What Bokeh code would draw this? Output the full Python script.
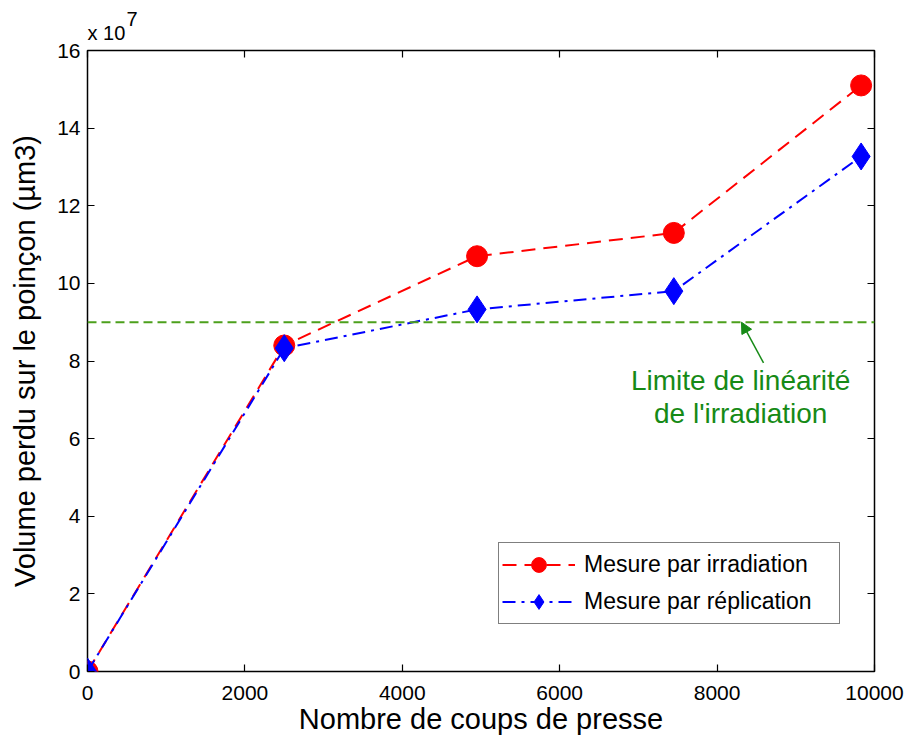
from bokeh.plotting import figure
from bokeh.models import (Range1d, LinearAxis, FixedTicker, CustomJSTickFormatter,
                          Legend, LegendItem, Label, Span, Arrow, NormalHead, Title)
from bokeh.embed import file_html
from bokeh.resources import INLINE

# ---- data ----
coups = [0, 2500, 4950, 7450, 9830]
irradiation = [0.0, 8.4, 10.7, 11.3, 15.1]      # x 10^7 µm3
replication = [0.0, 8.33, 9.33, 9.8, 13.27]     # x 10^7 µm3
limite = 9.0                                    # x 10^7 µm3
x_ticks = [0, 2000, 4000, 6000, 8000, 10000]
y_ticks = [0, 2, 4, 6, 8, 10, 12, 14, 16]
arrow_from = (8590, 7.95)
arrow_to = (8310, 9.0)
note_pos = (8300, 7.5, 6.65)

FONT = "Liberation Sans"

p = figure(width=910, height=737, output_backend="svg", toolbar_location=None,
           x_range=Range1d(0, 10000), y_range=Range1d(0, 16),
           min_border_left=87, min_border_right=36, min_border_top=49, min_border_bottom=66,
           x_axis_label="Nombre de coups de presse",
           y_axis_label="Volume perdu sur le poinçon (µm3)")
p.grid.visible = False
p.outline_line_color = "black"
p.outline_line_width = 1.5
p.background_fill_color = "white"
p.border_fill_color = "white"

for ax in (p.xaxis[0], p.yaxis[0]):
    ax.axis_line_color = None
    ax.major_tick_in = 7
    ax.major_tick_out = 0
    ax.minor_tick_line_color = None
    ax.major_tick_line_color = "black"
    ax.major_tick_line_width = 1.2
    ax.major_label_text_font = FONT
    ax.major_label_text_font_size = "21px"
    ax.major_label_text_color = "black"
    ax.axis_label_text_font = FONT
    ax.axis_label_text_font_size = "29px"
    ax.axis_label_text_font_style = "normal"
    ax.axis_label_text_color = "black"

p.xaxis[0].ticker = FixedTicker(ticks=x_ticks)
p.yaxis[0].ticker = FixedTicker(ticks=y_ticks)
p.xaxis[0].major_label_standoff = 14
p.xaxis[0].axis_label_standoff = 0
p.yaxis[0].major_label_standoff = 7
p.yaxis[0].axis_label_standoff = 13

blank = CustomJSTickFormatter(code="return ''")
top = LinearAxis(ticker=FixedTicker(ticks=x_ticks), formatter=blank, axis_line_color=None,
                 major_tick_in=7, major_tick_out=0, minor_tick_line_color=None,
                 major_tick_line_width=1.2, major_label_standoff=0,
                 major_label_text_font_size="1px")
right = LinearAxis(ticker=FixedTicker(ticks=y_ticks), formatter=blank, axis_line_color=None,
                   major_tick_in=7, major_tick_out=0, minor_tick_line_color=None,
                   major_tick_line_width=1.2, major_label_standoff=0,
                   major_label_text_font_size="1px")
p.add_layout(top, "above")
p.add_layout(right, "right")

# multiplier of the y axis: "x 10" with a raised "7" (two lines, tight leading)
NBSP = "\u00a0"
p.add_layout(Title(text=NBSP * 7 + "7\nx 10", align="left", offset=0, standoff=12,
                   text_font=FONT, text_font_size="20px", text_font_style="normal",
                   text_line_height=0.65, text_color="black"), "above")

# limit line
green_line = "#4ca01c"
green_text = "#168a16"
p.add_layout(Span(location=limite, dimension="width", line_color=green_line,
                  line_width=2, line_dash="9 5"))

r1l = p.line(coups, irradiation, line_color="#ff0000", line_width=2, line_dash="14 8")
r1m = p.scatter(coups, irradiation, marker="circle", size=21, fill_color="#ff0000",
                line_color="#ff0000")
r2l = p.line(coups, replication, line_color="#0000ff", line_width=2, line_dash="13 6 3 6")
r2m = p.scatter(coups, replication, marker="diamond", size=27, fill_color="#0000ff",
                line_color="#0000ff")

legend = Legend(items=[LegendItem(label="Mesure par irradiation", renderers=[r1l, r1m]),
                       LegendItem(label="Mesure par réplication", renderers=[r2l, r2m])],
                location=(411, 47), padding=3, spacing=-6, glyph_height=37, label_height=37,
                glyph_width=73, label_standoff=9, label_width=252, margin=0,
                label_text_font=FONT, label_text_font_size="23px", label_text_color="black",
                border_line_color="black", border_line_width=1.2,
                background_fill_color="white", background_fill_alpha=1)
p.add_layout(legend, "center")

p.add_layout(Arrow(x_start=arrow_from[0], y_start=arrow_from[1], x_end=arrow_to[0], y_end=arrow_to[1],
                   line_color=green_text, line_width=1.5,
                   end=NormalHead(size=11, fill_color=green_text, line_color=green_text)))

p.add_layout(Label(x=note_pos[0], y=note_pos[1], text="Limite de linéarité", text_align="center",
                   text_baseline="middle", text_font=FONT, text_font_size="28px",
                   text_color=green_text))
p.add_layout(Label(x=note_pos[0], y=note_pos[2], text="de l'irradiation", text_align="center",
                   text_baseline="middle", text_font=FONT, text_font_size="28px",
                   text_color=green_text))

open("out.html", "w").write(file_html(p, INLINE))
